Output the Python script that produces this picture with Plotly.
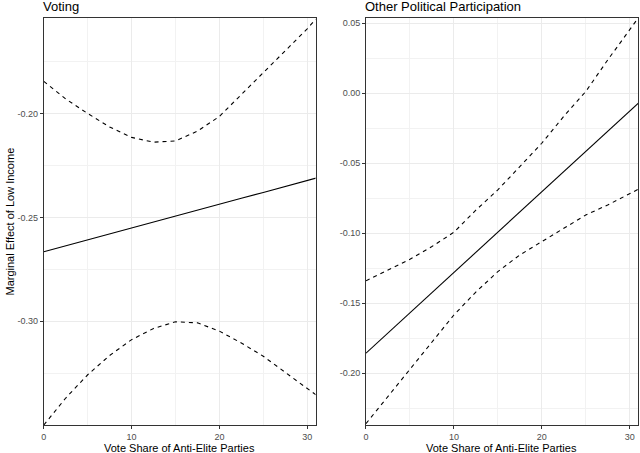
import plotly.graph_objects as go

# ---- data ----
x_vals = [0, 2.5, 5, 7.5, 10, 12.5, 15, 17.5, 20, 22.5, 25, 27.5, 30, 31]

voting_est = [-0.2666, -0.2637, -0.2609, -0.2580, -0.2551, -0.2523, -0.2494,
              -0.2466, -0.2437, -0.2408, -0.2380, -0.2351, -0.2323, -0.2311]
voting_upper = [-0.1845, -0.1930, -0.2000, -0.2065, -0.2115, -0.2138, -0.2132,
                -0.2085, -0.2014, -0.1910, -0.1804, -0.1698, -0.1592, -0.1545]
voting_lower = [-0.3500, -0.3370, -0.3258, -0.3165, -0.3089, -0.3035, -0.3003,
                -0.3008, -0.3048, -0.3105, -0.3169, -0.3245, -0.3322, -0.3355]

other_est = [-0.1857, -0.1713, -0.1569, -0.1425, -0.1281, -0.1137, -0.0993,
             -0.0849, -0.0704, -0.0560, -0.0416, -0.0272, -0.0128, -0.0070]
other_upper = [-0.1340, -0.1265, -0.1186, -0.1095, -0.0993, -0.0835, -0.0690,
               -0.0524, -0.0357, -0.0165, 0.0012, 0.0238, 0.0458, 0.0540]
other_lower = [-0.2360, -0.2165, -0.1976, -0.1780, -0.1584, -0.1420, -0.1274,
               -0.1155, -0.1060, -0.0960, -0.0870, -0.0798, -0.0715, -0.0685]

panel_titles = ["Voting", "Other Political Participation"]
x_title = "Vote Share of Anti-Elite Parties"
y_title = "Marginal Effect of Low Income"

left_yticks = [-0.30, -0.25, -0.20]
right_yticks = [-0.20, -0.15, -0.10, -0.05, 0.00, 0.05]
x_ticks = [0, 10, 20, 30]

W, H = 640, 453
fig = go.Figure()

line_w = 1.1
dash_style = "4px,4px"

def add_panel(xa, ya, est, up, lo):
    fig.add_trace(go.Scatter(x=x_vals, y=est, mode="lines", xaxis=xa, yaxis=ya,
                             line=dict(color="black", width=line_w), showlegend=False))
    for s in (up, lo):
        fig.add_trace(go.Scatter(x=x_vals, y=s, mode="lines", xaxis=xa, yaxis=ya,
                                 line=dict(color="black", width=line_w, dash=dash_style),
                                 showlegend=False))

add_panel("x", "y", voting_est, voting_upper, voting_lower)
add_panel("x2", "y2", other_est, other_upper, other_lower)

tickfont = dict(family="Liberation Sans, Arial, sans-serif", size=9, color="#4D4D4D")
grid_major = "#EBEBEB"
grid_minor = "#F2F2F2"

def xaxis(domain):
    return dict(domain=domain, range=[0, 30.95], tickmode="array", tickvals=x_ticks,
                ticktext=[str(t) for t in x_ticks], ticks="outside", ticklen=3,
                tickcolor="#333333", tickwidth=1, tickfont=tickfont,
                ticklabelstandoff=0,
                showgrid=True, gridcolor=grid_major, gridwidth=1,
                minor=dict(tickvals=[5, 15, 25], showgrid=True, gridcolor=grid_minor,
                           gridwidth=0.6, ticks=""),
                showline=True, linecolor="#333333", linewidth=1, mirror=True,
                zeroline=False, fixedrange=True)

def yaxis(domain, rng, ticks, anchor, minor_vals):
    return dict(domain=domain, range=rng, tickmode="array", tickvals=ticks,
                ticktext=["%.2f" % t for t in ticks], ticks="outside", ticklen=3,
                tickcolor="#333333", tickwidth=1, tickfont=tickfont, anchor=anchor,
                showgrid=True, gridcolor=grid_major, gridwidth=1,
                minor=dict(tickvals=minor_vals, showgrid=True, gridcolor=grid_minor,
                           gridwidth=0.6, ticks=""),
                showline=True, linecolor="#333333", linewidth=1, mirror=True,
                zeroline=False, fixedrange=True)

ydom = [28 / H, 435 / H]
xd1 = [41 / W, 314 / W]
xd2 = [364.7 / W, 638 / W]

fig.update_layout(
    width=W, height=H,
    margin=dict(l=0, r=0, t=0, b=0),
    paper_bgcolor="white", plot_bgcolor="white",
    xaxis=dict(**xaxis(xd1), anchor="y"),
    yaxis=yaxis(ydom, [-0.35, -0.154], left_yticks, "x",
                [-0.325, -0.275, -0.225, -0.175]),
    xaxis2=dict(**xaxis(xd2), anchor="y2"),
    yaxis2=yaxis(ydom, [-0.237, 0.0538], right_yticks, "x2",
                 [-0.225, -0.175, -0.125, -0.075, -0.025, 0.025]),
    showlegend=False,
)

title_font = dict(family="Liberation Sans, Arial, sans-serif", size=13, color="black")
axis_font = dict(family="Liberation Sans, Arial, sans-serif", size=11, color="black")

ann = []
for xd, t in ((xd1, panel_titles[0]), (xd2, panel_titles[1])):
    ann.append(dict(text=t, x=xd[0], y=1.0, xref="paper", yref="paper",
                    xanchor="left", yanchor="top", showarrow=False, font=title_font,
                    yshift=3, xshift=-3))
    ann.append(dict(text=x_title, x=(xd[0] + xd[1]) / 2, y=0, xref="paper", yref="paper",
                    xanchor="center", yanchor="bottom", showarrow=False, font=axis_font,
                    yshift=-3))
ann.append(dict(text=y_title, x=0, y=(ydom[0] + ydom[1]) / 2, xref="paper", yref="paper",
                xanchor="left", yanchor="middle", textangle=-90, showarrow=False,
                font=axis_font, xshift=-1))
fig.update_layout(annotations=ann)

fig.write_html("out.html", config={"displayModeBar": False},
               post_script="document.body.style.margin='0';document.body.style.padding='0';")
